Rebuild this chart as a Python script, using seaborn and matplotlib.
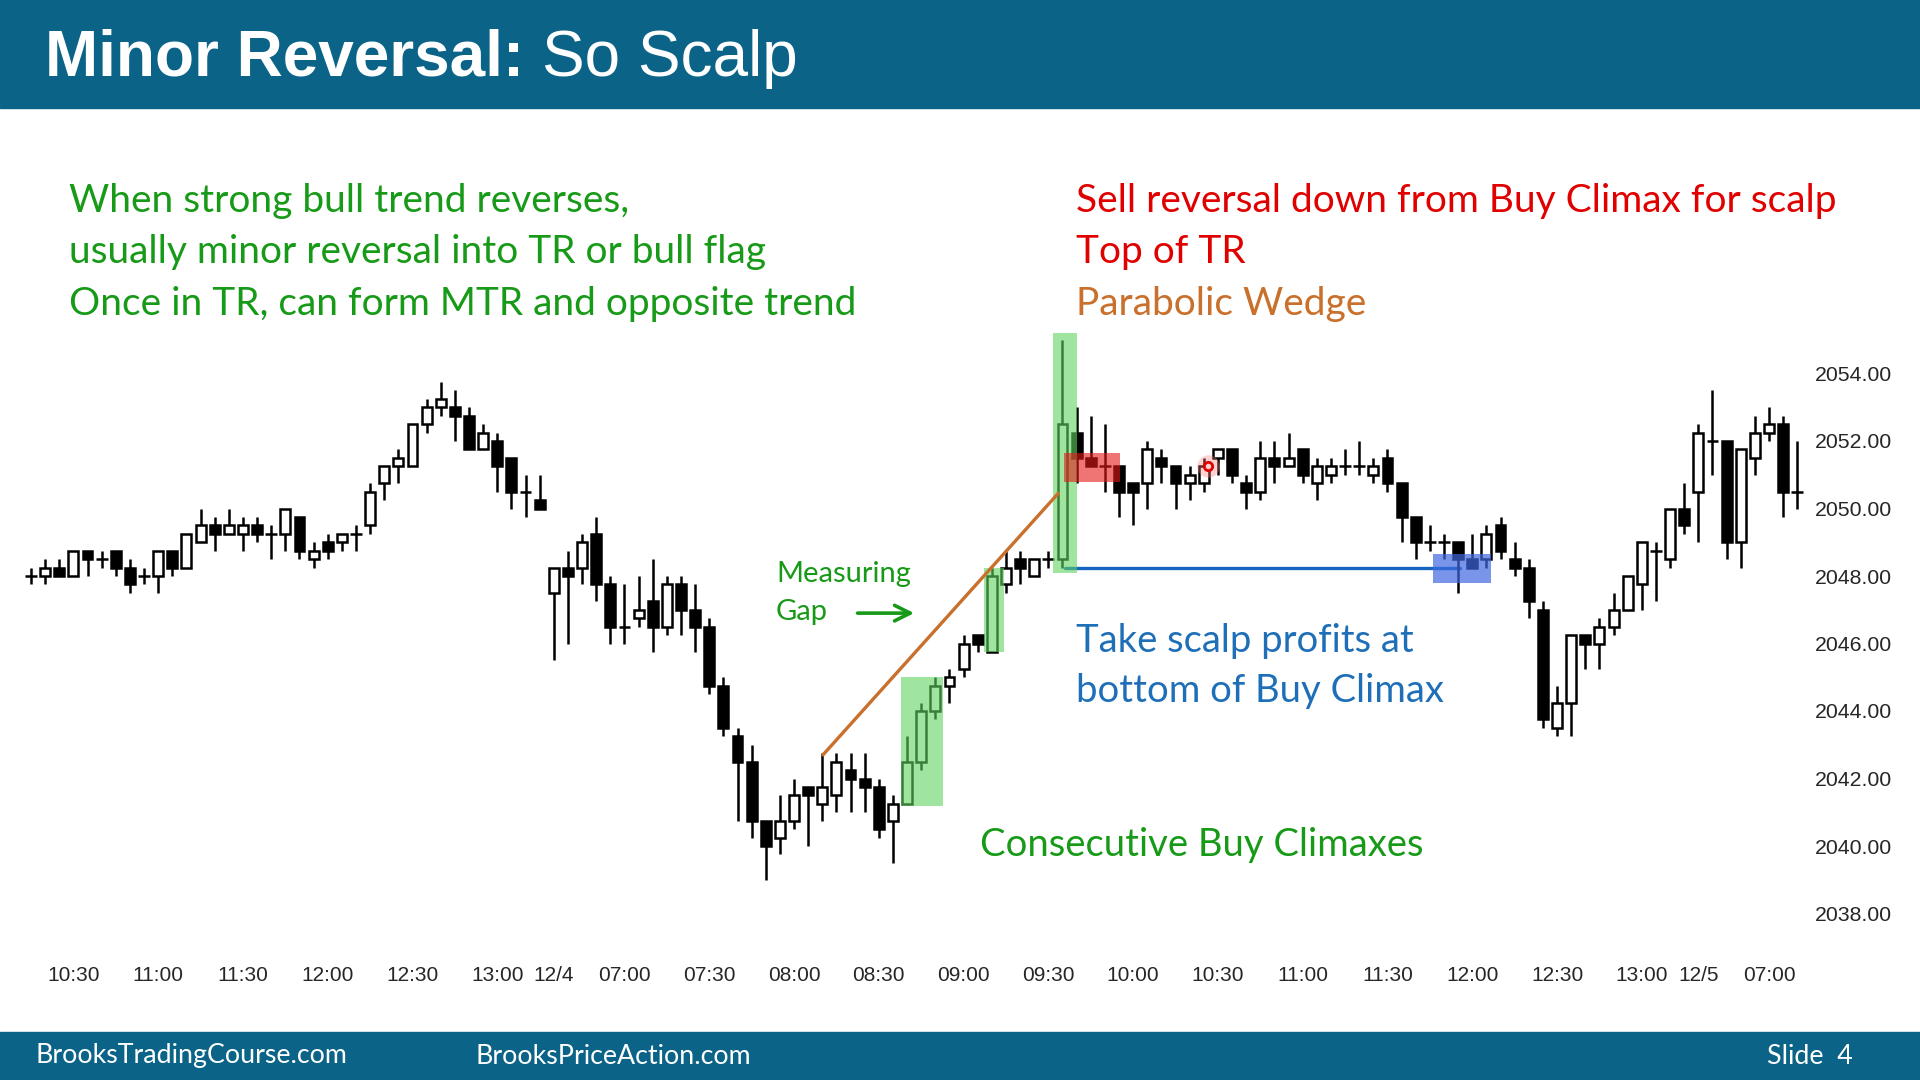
import numpy as np
import pandas as pd
import matplotlib.pyplot as plt
import seaborn as sns
from matplotlib.patches import Rectangle

# --- 5 minute bars (index 0 = 10:15 of day 1) ---
opens = [2048, 2048, 2048.25, 2048, 2048.75, 2048.5, 2048.75, 2048.25, 2048, 2048,
         2048.75, 2048.25, 2049, 2049.5, 2049.25, 2049.25, 2049.5, 2049.25, 2049.25, 2049.75,
         2048.5, 2049, 2049, 2049.25, 2049.5, 2050.75, 2051.25, 2051.25, 2052.5, 2053,
         2053, 2052.75, 2051.75, 2052, 2051.5, 2050.5, 2050.25, 2047.5, 2048.25, 2048.25,
         2049.25, 2047.75, 2046.5, 2046.75, 2047.25, 2046.5, 2047.75, 2047, 2046.5, 2044.75,
         2043.25, 2042.5, 2040.75, 2040.25, 2040.75, 2041.75, 2041.25, 2041.5, 2042.25, 2042,
         2041.75, 2040.75, 2041.25, 2042.5, 2044, 2044.75, 2045.25, 2046.25, 2045.75, 2047.75,
         2048.5, 2048, 2048.5, 2048.5, 2052.25, 2051.5, 2051.25, 2051.25, 2050.75, 2050.75,
         2051.5, 2051.25, 2050.75, 2050.75, 2051.5, 2051.75, 2050.75, 2050.5, 2051.5, 2051.25,
         2051.75, 2050.75, 2051, 2051.25, 2051.25, 2051, 2051.5, 2050.75, 2049.75, 2049,
         2049, 2049, 2048.5, 2048.5, 2049.5, 2048.5, 2048.25, 2047, 2043.5, 2044.25,
         2046.25, 2046, 2046.5, 2047, 2047.75, 2048.75, 2048.5, 2050, 2050.5, 2052,
         2052, 2049, 2051.5, 2052.25, 2052.5, 2050.5]
highs = [2048.25, 2048.5, 2048.5, 2048.75, 2048.75, 2048.75, 2048.75, 2048.5, 2048.25, 2048.75,
         2048.75, 2049.25, 2050, 2049.75, 2050, 2049.75, 2049.75, 2049.5, 2050, 2049.75,
         2049, 2049.25, 2049.25, 2049.5, 2050.75, 2051.25, 2051.75, 2052.5, 2053.25, 2053.75,
         2053.5, 2053, 2052.5, 2052.25, 2051.5, 2051, 2051, 2048.25, 2048.75, 2049.25,
         2049.75, 2048, 2047.75, 2048, 2048.5, 2048, 2048, 2047.75, 2046.75, 2045,
         2043.5, 2043, 2040.75, 2041.5, 2042, 2041.75, 2042.75, 2042.75, 2042.75, 2042.75,
         2042, 2041.5, 2043.25, 2044.25, 2045, 2045.25, 2046.25, 2046.25, 2048.25, 2048.75,
         2048.75, 2048.5, 2048.75, 2055, 2053, 2052.75, 2052.5, 2051.25, 2050.75, 2052,
         2051.75, 2051.25, 2051.25, 2051.5, 2051.75, 2051.75, 2051, 2052, 2052, 2052.25,
         2051.75, 2051.5, 2051.5, 2051.75, 2052, 2051.5, 2051.75, 2050.75, 2049.75, 2049.5,
         2049.25, 2049, 2049.25, 2049.5, 2049.75, 2049, 2048.5, 2047.25, 2044.75, 2046.25,
         2046.25, 2046.75, 2047.5, 2048, 2049, 2049, 2050, 2050.75, 2052.5, 2053.5,
         2052, 2051.75, 2052.75, 2053, 2052.75, 2052]
lows = [2047.75, 2047.75, 2048, 2048, 2048, 2048.25, 2048, 2047.5, 2047.75, 2047.5,
        2048, 2048.25, 2049, 2048.75, 2049.25, 2048.75, 2049, 2048.5, 2048.75, 2048.5,
        2048.25, 2048.5, 2048.75, 2048.75, 2049.25, 2050.25, 2050.75, 2051.25, 2052.25, 2052.75,
        2052, 2051.75, 2051.75, 2050.5, 2050, 2049.75, 2050, 2045.5, 2046, 2047.75,
        2047.25, 2046, 2046, 2046.5, 2045.75, 2046.25, 2046.25, 2045.75, 2044.5, 2043.25,
        2040.75, 2040.25, 2039, 2039.75, 2040.5, 2040, 2040.75, 2041, 2041, 2041,
        2040.25, 2039.5, 2041.25, 2042.25, 2043.75, 2044.25, 2045, 2045.75, 2045.75, 2047.5,
        2047.75, 2048, 2048.25, 2048.25, 2050.75, 2051.25, 2050.5, 2049.75, 2049.5, 2050,
        2050.75, 2050, 2050.25, 2050.5, 2051, 2050.75, 2050, 2050.25, 2050.75, 2051.25,
        2050.75, 2050.25, 2050.75, 2051, 2051, 2050.75, 2050.5, 2049, 2048.5, 2048.75,
        2048.5, 2047.5, 2048.25, 2048.25, 2048.5, 2048, 2046.75, 2043.5, 2043.25, 2043.25,
        2045.25, 2045.25, 2046.25, 2047, 2047, 2047.25, 2048.25, 2049.25, 2049, 2051,
        2048.5, 2048.25, 2051, 2052, 2049.75, 2050]
closes = [2048, 2048.25, 2048, 2048.75, 2048.5, 2048.5, 2048.25, 2047.75, 2048, 2048.75,
          2048.25, 2049.25, 2049.5, 2049.25, 2049.5, 2049.5, 2049.25, 2049.25, 2050, 2048.75,
          2048.75, 2048.75, 2049.25, 2049.25, 2050.5, 2051.25, 2051.5, 2052.5, 2053, 2053.25,
          2052.75, 2051.75, 2052.25, 2051.25, 2050.5, 2050.5, 2050, 2048.25, 2048, 2049,
          2047.75, 2046.5, 2046.5, 2047, 2046.5, 2047.75, 2047, 2046.5, 2044.75, 2043.5,
          2042.5, 2040.75, 2040, 2040.75, 2041.5, 2041.5, 2041.75, 2042.5, 2042, 2041.75,
          2040.5, 2041.25, 2042.5, 2044, 2044.75, 2045, 2046, 2046, 2048, 2048.25,
          2048.25, 2048.5, 2048.5, 2052.5, 2051.5, 2051.25, 2051.25, 2050.5, 2050.5, 2051.75,
          2051.25, 2050.75, 2051, 2051.25, 2051.75, 2051, 2050.5, 2051.5, 2051.25, 2051.5,
          2051, 2051.25, 2051.25, 2051.25, 2051.25, 2051.25, 2050.75, 2049.75, 2049, 2049,
          2049, 2048.5, 2048.25, 2049.25, 2048.75, 2048.25, 2047.25, 2043.75, 2044.25, 2046.25,
          2046, 2046.5, 2047, 2048, 2049, 2048.75, 2050, 2049.5, 2052.25, 2052,
          2049, 2051.75, 2052.25, 2052.5, 2050.5, 2050.5]

tick_pos = [3, 9, 15, 21, 27, 33, 37, 42, 48, 54, 60, 66, 72, 78, 84, 90, 96, 102, 108, 114, 118, 123]
tick_labels = ['10:30', '11:00', '11:30', '12:00', '12:30', '13:00', '12/4', '07:00', '07:30', '08:00',
               '08:30', '09:00', '09:30', '10:00', '10:30', '11:00', '11:30', '12:00', '12:30', '13:00',
               '12/5', '07:00']
price_ticks = [2038, 2040, 2042, 2044, 2046, 2048, 2050, 2052, 2054]

# annotation shapes (bar index, price)
climax_boxes = [(61.6, 64.55, 2041.2, 2045.0), (67.45, 68.85, 2045.75, 2048.25), (72.35, 74.0, 2048.1, 2055.2)]
sell_box = (73.1, 77.1, 2050.8, 2051.65)
target_box = (99.2, 103.3, 2047.8, 2048.65)
target_line = ([73.2, 101.1], [2048.25, 2048.25])
wedge_line = ([56.05, 72.7], [2042.7, 2050.45])
gap_arrow = ((58.3, 2046.9), (62.7, 2046.9))
entry_mark = (83.3, 2051.25)

GREEN = '#179a17'
RED = '#e00000'
ORANGE = '#c8702c'
BLUE = '#1f6fb8'
TEAL = '#0b6487'

sns.set_style('white')
plt.rcParams['font.family'] = ['Liberation Sans', 'DejaVu Sans']
CAL = ['Lato', 'DejaVu Sans']

W, H = 1920, 1080
fig = plt.figure(figsize=(19.2, 10.8), dpi=100)

# header / footer bands
fig.patches.append(Rectangle((0, 1 - 108 / H), 1, 108 / H, transform=fig.transFigure, color=TEAL, zorder=0))
fig.patches.append(Rectangle((0, 0), 1, 48 / H, transform=fig.transFigure, color=TEAL, zorder=0))


def ftext(x, y, s, **kw):
    fig.text(x / W, 1 - y / H, s, va='center', **kw)


# chart area: bar i sits at x = 31 + 14.13 i px, price p at y = 373.5 + (2054 - p) * 33.75 px
left, right, top, bottom = 10, 1808, 300, 945
ax = fig.add_axes([left / W, 1 - bottom / H, (right - left) / W, (bottom - top) / H])
ax.set_xlim((left - 31) / 14.13, (right - 31) / 14.13)
ax.set_ylim(2054 - (bottom - 373.5) / 33.75, 2054 + (373.5 - top) / 33.75)

df = pd.DataFrame({'open': opens, 'high': highs, 'low': lows, 'close': closes})
df['x'] = np.arange(len(df))
doji = (df['close'] - df['open']).abs() < 0.01

ax.vlines(df['x'], df['low'], df['high'], color='black', lw=1.8, zorder=2)
body = df[~doji]
ax.bar(body['x'], (body['close'] - body['open']).abs(), bottom=np.minimum(body['open'], body['close']),
       width=0.7, color=np.where(body['close'] > body['open'], 'white', 'black'),
       edgecolor='black', linewidth=1.8, zorder=3)
d = df[doji]
ax.hlines(d['open'], d['x'] - 0.42, d['x'] + 0.42, color='black', lw=1.8, zorder=3)

for x0, x1, y0, y1 in climax_boxes:
    ax.add_patch(Rectangle((x0, y0), x1 - x0, y1 - y0, color='#5fd35f', alpha=0.6, lw=0, zorder=4))
x0, x1, y0, y1 = sell_box
ax.add_patch(Rectangle((x0, y0), x1 - x0, y1 - y0, color='#e51a1a', alpha=0.6, lw=0, zorder=4))
x0, x1, y0, y1 = target_box
ax.add_patch(Rectangle((x0, y0), x1 - x0, y1 - y0, color='#3f68e0', alpha=0.7, lw=0, zorder=4))

sns.lineplot(x=target_line[0], y=target_line[1], ax=ax, color='#1565c0', lw=2.4, zorder=1.5)
sns.lineplot(x=wedge_line[0], y=wedge_line[1], ax=ax, color=ORANGE, lw=2.4, zorder=5)
ax.annotate('', xy=gap_arrow[1], xytext=gap_arrow[0],
            arrowprops=dict(arrowstyle='->', color=GREEN, lw=2.6, mutation_scale=28))
ax.scatter([entry_mark[0]], [entry_mark[1]], s=260, color='#ff8080', alpha=0.35, lw=0, zorder=5)
ax.scatter([entry_mark[0]], [entry_mark[1]], s=36, facecolor='#ffd0d0', edgecolor='#e00000', lw=2, zorder=6)

ax.set_xticks(tick_pos, tick_labels)
ax.set_yticks(price_ticks, [f'{p:.2f}' for p in price_ticks])
ax.yaxis.tick_right()
ax.tick_params(axis='x', length=0, pad=15, labelsize=15)
ax.tick_params(axis='y', length=0, pad=5, labelsize=15.3)
for s in ax.spines.values():
    s.set_visible(False)
ax.set_facecolor('none')

# title and footer
ftext(45, 59, 'Minor Reversal:', color='white', fontsize=46, fontweight='bold')
ftext(542, 59, 'So Scalp', color='white', fontsize=46)
ftext(35, 1056, 'BrooksTradingCourse.com', color='white', fontsize=19.3, family=CAL)
ftext(475, 1056, 'BrooksPriceAction.com', color='white', fontsize=19.3, family=CAL)
ftext(1767, 1056, 'Slide  4', color='white', fontsize=19.3, family=CAL)

# annotations
ftext(69, 201, 'When strong bull trend reverses,', color=GREEN, fontsize=28, family=CAL)
ftext(69, 252, 'usually minor reversal into TR or bull flag', color=GREEN, fontsize=28, family=CAL)
ftext(69, 304, 'Once in TR, can form MTR and opposite trend', color=GREEN, fontsize=28, family=CAL)
ftext(1076, 201, 'Sell reversal down from Buy Climax for scalp', color=RED, fontsize=28, family=CAL)
ftext(1076, 252, 'Top of TR', color=RED, fontsize=28, family=CAL)
ftext(1076, 304, 'Parabolic Wedge', color=ORANGE, fontsize=28, family=CAL)
ftext(776, 574, 'Measuring', color=GREEN, fontsize=21, family=CAL)
ftext(776, 612, 'Gap', color=GREEN, fontsize=21, family=CAL)
ftext(1076, 641, 'Take scalp profits at', color=BLUE, fontsize=27.5, family=CAL)
ftext(1076, 691, 'bottom of Buy Climax', color=BLUE, fontsize=27.5, family=CAL)
ftext(980, 845, 'Consecutive Buy Climaxes', color=GREEN, fontsize=27.5, family=CAL)

fig.savefig('out.png', dpi=100)
